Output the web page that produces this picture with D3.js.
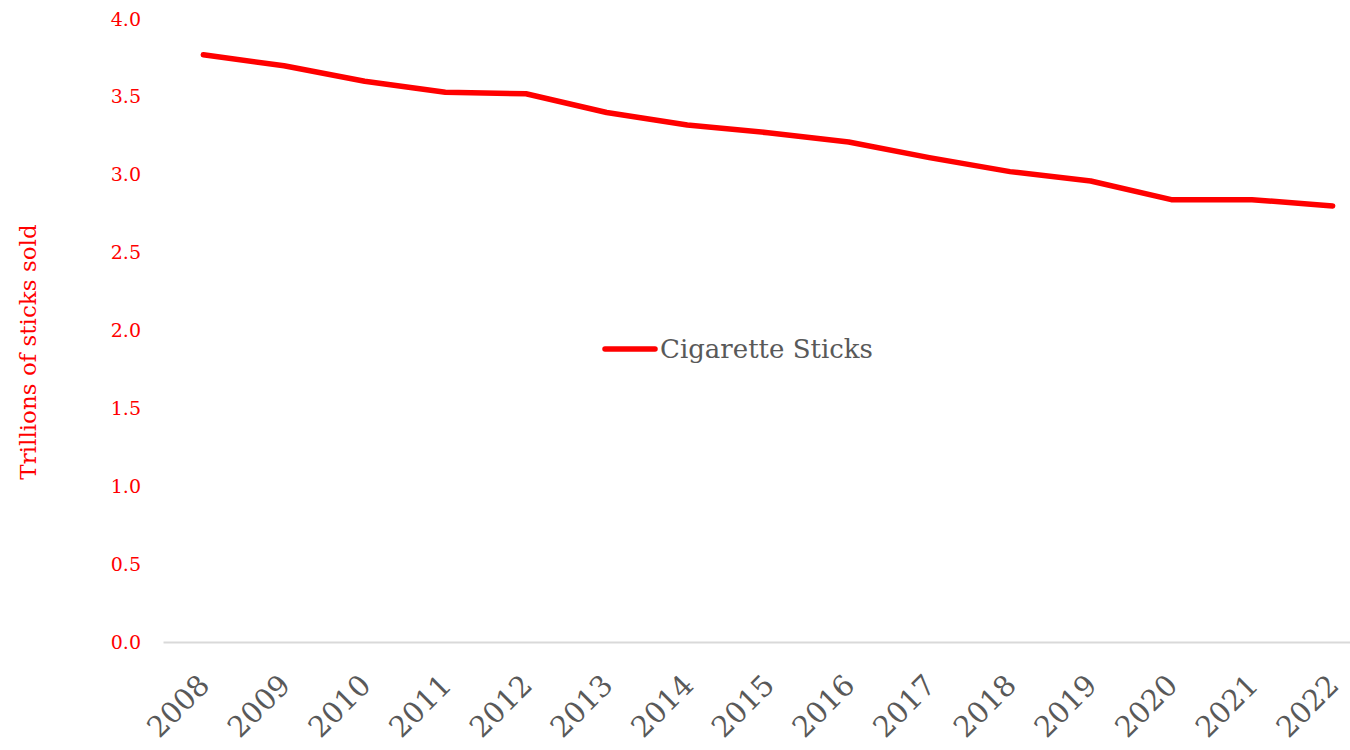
<!DOCTYPE html>
<html>
<head>
<meta charset="utf-8">
<script src="https://cdn.jsdelivr.net/npm/d3@7"></script>
<style>
  body { margin: 0; background: #fff; }
  svg text { font-family: Georgia, "DejaVu Serif", serif; }
</style>
</head>
<body>
<div id="chart"></div>
<script>
// data
const years = ["2008", "2009", "2010", "2011", "2012", "2013", "2014", "2015",
               "2016", "2017", "2018", "2019", "2020", "2021", "2022"];
const sticks = [3.77, 3.70, 3.60, 3.53, 3.52, 3.40, 3.32, 3.27,
                3.21, 3.11, 3.02, 2.96, 2.84, 2.84, 2.80];
const yTicks = [0, 0.5, 1, 1.5, 2, 2.5, 3, 3.5, 4];
const seriesName = "Cigarette Sticks";
const yTitle = "Trillions of sticks sold";

const W = 1350, H = 750;
const red = "#ff0000";

const svg = d3.select("#chart").append("svg")
    .attr("width", W)
    .attr("height", H);

// scales
const x = d3.scaleBand()
    .domain(years)
    .range([163, 1373]);
const y = d3.scaleLinear()
    .domain([0, 4])
    .range([642, 19]);

// y axis labels (no line)
const yAxis = d3.axisLeft(y)
    .tickValues(yTicks)
    .tickFormat(d3.format(".1f"))
    .tickSize(0)
    .tickPadding(0);

svg.append("g")
    .attr("class", "y axis")
    .attr("transform", "translate(141,0)")
    .call(yAxis)
    .call(g => g.select(".domain").remove())
    .selectAll("text")
    .attr("fill", red)
    .style("font-size", "19px")
    .attr("text-anchor", "end");

// x axis
const xAxis = d3.axisBottom(x).tickSize(0).tickPadding(0);
const gx = svg.append("g")
    .attr("class", "x axis")
    .attr("transform", `translate(0,${y(0)})`)
    .call(xAxis);
gx.select(".domain")
    .attr("stroke", "#d9d9d9")
    .attr("stroke-width", 2);
gx.selectAll("text")
    .attr("fill", "#595959")
    .style("font-size", "29px")
    .attr("text-anchor", "end")
    .attr("dy", null)
    .attr("y", 0)
    .attr("transform", "translate(8,45) rotate(-45)");

// line
const line = d3.line()
    .x((d, i) => x(years[i]) + x.bandwidth() / 2)
    .y(d => y(d));

svg.append("path")
    .datum(sticks)
    .attr("fill", "none")
    .attr("stroke", red)
    .attr("stroke-width", 5.5)
    .attr("stroke-linecap", "round")
    .attr("stroke-linejoin", "round")
    .attr("d", line);

// y title
svg.append("text")
    .attr("transform", "translate(36,352) rotate(-90)")
    .attr("text-anchor", "middle")
    .attr("fill", red)
    .style("font-size", "23px")
    .text(yTitle);

// legend
const legend = svg.append("g").attr("transform", "translate(605,349)");
legend.append("line")
    .attr("x1", 0).attr("x2", 50)
    .attr("y1", 0).attr("y2", 0)
    .attr("stroke", red)
    .attr("stroke-width", 5.5)
    .attr("stroke-linecap", "round");
legend.append("text")
    .attr("x", 55)
    .attr("y", 9)
    .attr("fill", "#595959")
    .style("font-size", "26px")
    .text(seriesName);
</script>
</body>
</html>
